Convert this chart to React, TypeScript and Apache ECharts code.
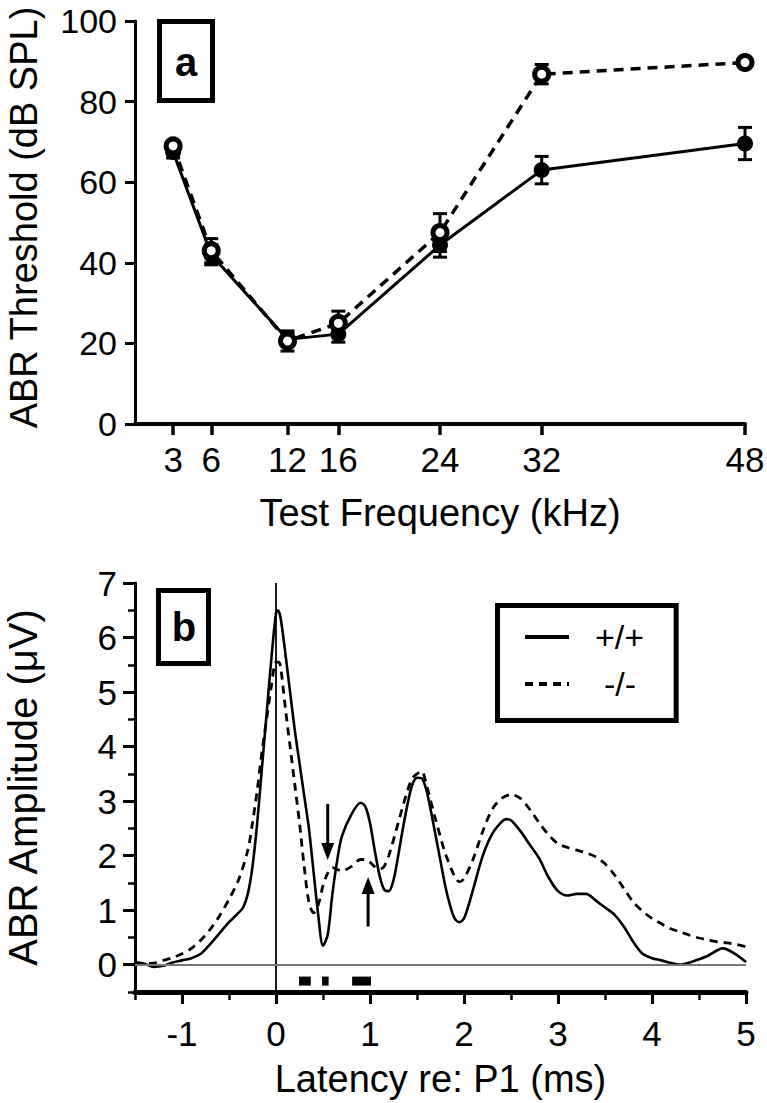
import React, { useEffect, useRef } from "react";
import * as echarts from "echarts";

// ---------- Panel a: ABR thresholds ----------
const freqTicks = [3, 6, 12, 16, 24, 32, 48];
const wtThreshold = [67.5, 42, 21, 22.3, 44.4, 63, 69.6];
const wtError = [1.5, 2.5, 1.5, 2, 3, 3.4, 4];
const koThreshold = [69, 43, 20.6, 25, 47.5, 86.8, 89.7];
const koError = [1.2, 3, 2.5, 3, 4.7, 2.4, 1];

// ---------- Panel b: ABR waveforms ----------
const wtLatency = [
  -1.5, -1.4, -1.3, -1.2, -1.1, -1.0, -0.9, -0.8, -0.7, -0.6, -0.5, -0.4, -0.35, -0.3, -0.25, -0.2, -0.15, -0.1,
  -0.05, 0, 0.02, 0.05, 0.1, 0.15, 0.2, 0.25, 0.3, 0.35, 0.4, 0.45, 0.5, 0.55, 0.6, 0.65, 0.7, 0.8, 0.9, 0.95, 1.0,
  1.05, 1.1, 1.15, 1.2, 1.25, 1.3, 1.35, 1.4, 1.45, 1.5, 1.55, 1.6, 1.65, 1.7, 1.75, 1.8, 1.85, 1.9, 1.95, 2.0,
  2.05, 2.1, 2.2, 2.3, 2.4, 2.45, 2.5, 2.6, 2.7, 2.8, 2.9, 3.0, 3.1, 3.2, 3.3, 3.4, 3.5, 3.6, 3.7, 3.8, 3.9, 4.0,
  4.1, 4.2, 4.3, 4.4, 4.5, 4.6, 4.7, 4.75, 4.8, 4.9, 5.0,
];
const wtAmplitude = [
  0.05, 0.02, -0.04, -0.02, 0.04, 0.08, 0.12, 0.2, 0.38, 0.58, 0.78, 0.95, 1.05, 1.3, 1.8, 2.6, 3.6, 4.6,
  5.6, 6.45, 6.5, 6.35, 5.7, 5.0, 4.3, 3.7, 3.1, 2.5, 1.7, 0.9, 0.35, 0.55, 1.3, 1.9, 2.35, 2.75, 2.97, 2.9, 2.6,
  2.1, 1.65, 1.38, 1.35, 1.55, 2.0, 2.5, 2.95, 3.3, 3.43, 3.42, 3.2, 2.8, 2.35, 1.9, 1.45, 1.1, 0.85, 0.78, 0.85,
  1.1, 1.4, 2.0, 2.4, 2.62, 2.67, 2.65, 2.45, 2.2, 1.95, 1.6, 1.35, 1.27, 1.3, 1.3, 1.18, 1.05, 0.92, 0.7, 0.42, 0.2, 0.12,
  0.08, 0.03, 0.0, 0.04, 0.1, 0.17, 0.27, 0.3, 0.28, 0.18, 0.05,
];
const koLatency = [
  -1.5, -1.4, -1.3, -1.2, -1.1, -1.0, -0.9, -0.8, -0.7, -0.6, -0.5, -0.4, -0.3, -0.25, -0.2, -0.15, -0.1, -0.05,
  0, 0.03, 0.05, 0.1, 0.15, 0.2, 0.25, 0.3, 0.35, 0.4, 0.45, 0.5, 0.55, 0.6, 0.7, 0.8, 0.9, 0.95, 1.0, 1.05, 1.1,
  1.15, 1.2, 1.3, 1.4, 1.45, 1.5, 1.55, 1.6, 1.7, 1.8, 1.9, 1.95, 2.0, 2.1, 2.2, 2.3, 2.4, 2.5, 2.6, 2.7, 2.8, 2.9,
  3.0, 3.1, 3.2, 3.3, 3.4, 3.5, 3.6, 3.7, 3.8, 3.9, 4.0, 4.1, 4.2, 4.3, 4.4, 4.5, 4.6, 4.7, 4.8, 4.9, 5.0,
];
const koAmplitude = [
  0.0, 0.02, 0.03, 0.08, 0.13, 0.2, 0.3, 0.45, 0.65, 0.9, 1.2, 1.55, 2.1, 2.6, 3.2, 3.9, 4.5, 5.1,
  5.55, 5.55, 5.45, 4.7, 4.0, 3.3, 2.6, 1.8, 1.15, 0.95, 1.1, 1.45, 1.68, 1.78, 1.72, 1.8, 1.93, 1.93, 1.88, 1.8, 1.75,
  1.8, 2.0, 2.6, 3.2, 3.42, 3.5, 3.55, 3.3, 2.65, 2.05, 1.62, 1.52, 1.58, 1.95, 2.45, 2.85, 3.05, 3.12, 3.05, 2.85, 2.6, 2.38,
  2.22, 2.15, 2.1, 2.05, 1.98, 1.85, 1.65, 1.4, 1.15, 0.98, 0.85, 0.75, 0.66, 0.6, 0.54, 0.49, 0.45, 0.42, 0.4, 0.37, 0.33,
];
const latencyLabels = [-1, 0, 1, 2, 3, 4, 5];
const amplitudeLabels = [0, 1, 2, 3, 4, 5, 6, 7];
// arrows: [latency, from amplitude, to amplitude (tip)]
const arrows = [
  [0.55, 2.95, 1.92],
  [0.98, 0.7, 1.61],
];
// significance bars: [start latency, end latency, amplitude level]
const sigBars = [
  [0.245, 0.37, -0.3],
  [0.49, 0.56, -0.3],
  [0.81, 1.01, -0.3],
];

const FONT = "'Liberation Sans', Arial, Helvetica, sans-serif";
const BLACK = "#000";

export default function App() {
  const ref = useRef<HTMLDivElement>(null);

  useEffect(() => {
    document.body.style.margin = "0";
    if (!ref.current) return;
    const chart = echarts.init(ref.current, undefined, { renderer: "svg" });

    const errorBarItem = (params: any, api: any) => {
      const x = api.value(0);
      const p1 = api.coord([x, api.value(1)]);
      const p2 = api.coord([x, api.value(2)]);
      const w = 7;
      const st = { stroke: BLACK, lineWidth: 3 };
      return {
        type: "group",
        children: [
          { type: "line", shape: { x1: p1[0], y1: p1[1], x2: p2[0], y2: p2[1] }, style: st },
          { type: "line", shape: { x1: p1[0] - w, y1: p1[1], x2: p1[0] + w, y2: p1[1] }, style: st },
          { type: "line", shape: { x1: p2[0] - w, y1: p2[1], x2: p2[0] + w, y2: p2[1] }, style: st },
        ],
      };
    };

    const arrowItem = (params: any, api: any) => {
      const x = api.value(0);
      const a = api.coord([x, api.value(1)]);
      const b = api.coord([x, api.value(2)]);
      const dir = b[1] > a[1] ? 1 : -1;
      const headLen = 17;
      const headW = 6.5;
      const base = b[1] - dir * headLen;
      return {
        type: "group",
        children: [
          { type: "line", shape: { x1: a[0], y1: a[1], x2: a[0], y2: base }, style: { stroke: BLACK, lineWidth: 3 } },
          {
            type: "polygon",
            shape: { points: [[b[0], b[1]], [b[0] - headW, base], [b[0] + headW, base]] },
            style: { fill: BLACK },
          },
        ],
      };
    };

    const sigItem = (params: any, api: any) => {
      const p0 = api.coord([api.value(0), api.value(2)]);
      const p1 = api.coord([api.value(1), api.value(2)]);
      const h = 9;
      return {
        type: "rect",
        shape: { x: p0[0], y: p0[1] - h / 2, width: p1[0] - p0[0], height: h },
        style: { fill: BLACK },
      };
    };

    const tickLabel = { color: BLACK, fontSize: 35, fontFamily: FONT };
    const nameStyle = { color: BLACK, fontSize: 38, fontFamily: FONT };

    chart.setOption({
      animation: false,
      backgroundColor: "#fff",
      grid: [
        { left: 135, right: 22, top: 21, bottom: 679, containLabel: false, outerBoundsMode: "none" },
        { left: 135, right: 21, top: 583, bottom: 111, containLabel: false, outerBoundsMode: "none" },
      ],
      xAxis: [
        {
          gridIndex: 0,
          type: "value",
          min: 0,
          max: 48,
          splitLine: { show: false },
          axisLine: { onZero: false, lineStyle: { color: BLACK, width: 4 } },
          axisTick: { customValues: freqTicks, length: 11, lineStyle: { color: BLACK, width: 3.5 } },
          axisLabel: { ...tickLabel, customValues: freqTicks, margin: 18 },
          name: "Test Frequency (kHz)",
          nameLocation: "middle",
          nameGap: 70,
          nameTextStyle: nameStyle,
        },
        {
          gridIndex: 1,
          type: "value",
          min: -1.5,
          max: 5,
          interval: 0.5,
          splitLine: { show: false },
          axisLine: { onZero: false, lineStyle: { color: BLACK, width: 5 } },
          axisTick: { length: 8, lineStyle: { color: BLACK, width: 2.5 } },
          axisLabel: { ...tickLabel, customValues: latencyLabels, margin: 24 },
          name: "Latency re: P1 (ms)",
          nameLocation: "middle",
          nameGap: 68,
          nameTextStyle: nameStyle,
        },
        {
          gridIndex: 1,
          type: "value",
          position: "bottom",
          min: -1.5,
          max: 5,
          splitLine: { show: false },
          axisLine: { show: false, onZero: false },
          axisTick: { customValues: latencyLabels, length: 12, lineStyle: { color: BLACK, width: 3 } },
          axisLabel: { show: false },
        },
      ],
      yAxis: [
        {
          gridIndex: 0,
          type: "value",
          min: 0,
          max: 100,
          interval: 20,
          splitLine: { show: false },
          axisLine: { show: true, onZero: false, lineStyle: { color: BLACK, width: 3 } },
          axisTick: { show: true, length: 10, lineStyle: { color: BLACK, width: 3 } },
          axisLabel: { ...tickLabel, fontSize: 34, margin: 18 },
          name: "ABR Threshold (dB SPL)",
          nameLocation: "middle",
          nameGap: 92,
          nameTextStyle: { ...nameStyle, fontSize: 38, padding: [0, 0, 0, 10] },
        },
        {
          gridIndex: 1,
          type: "value",
          min: -0.5,
          max: 7,
          interval: 0.5,
          splitLine: { show: false },
          axisLine: { show: true, onZero: false, lineStyle: { color: BLACK, width: 3 } },
          axisTick: { show: true, length: 7, lineStyle: { color: BLACK, width: 2.5 } },
          axisLabel: { ...tickLabel, customValues: amplitudeLabels, margin: 18 },
          name: "ABR Amplitude (\u03bcV)",
          nameLocation: "middle",
          nameGap: 92,
          nameTextStyle: { ...nameStyle, fontSize: 40 },
        },
        {
          gridIndex: 1,
          type: "value",
          position: "left",
          min: -0.5,
          max: 7,
          splitLine: { show: false },
          axisLine: { show: false, onZero: false },
          axisTick: { show: true, customValues: amplitudeLabels, length: 12, lineStyle: { color: BLACK, width: 3 } },
          axisLabel: { show: false },
        },
      ],
      legend: {
        data: [{ name: "+/+" }, { name: "-/-", textStyle: { padding: [0, 0, 0, 30] } }],
        orient: "vertical",
        left: 497.5,
        top: 605.5,
        padding: [14.5, 32, 19.5, 25.5],
        itemWidth: 44,
        itemHeight: 14,
        itemGap: 13,
        borderColor: BLACK,
        borderWidth: 5,
        borderRadius: 0,
        selectedMode: false,
        lineStyle: { width: 4 },
        itemStyle: { color: "rgba(0,0,0,0)", borderWidth: 0, opacity: 0 },
        textStyle: { color: BLACK, fontSize: 34, fontFamily: FONT, padding: [0, 0, 0, 21] },
      },
      graphic: [
        {
          type: "rect",
          shape: { x: 159.5, y: 21.5, width: 53, height: 79 },
          style: { fill: "#fff", stroke: BLACK, lineWidth: 5 },
        },
        {
          type: "text",
          x: 186,
          y: 62,
          style: { text: "a", fill: BLACK, font: `bold 40px ${FONT}`, align: "center", verticalAlign: "middle" },
        },
        {
          type: "rect",
          shape: { x: 158.5, y: 590.5, width: 50, height: 73 },
          style: { fill: "#fff", stroke: BLACK, lineWidth: 5 },
        },
        {
          type: "text",
          x: 184,
          y: 627,
          style: { text: "b", fill: BLACK, font: `bold 40px ${FONT}`, align: "center", verticalAlign: "middle" },
        },
      ],
      series: [
        {
          type: "custom",
          name: "a +/+ error",
          xAxisIndex: 0,
          yAxisIndex: 0,
          z: 2,
          encode: { x: 0, y: [1, 2] },
          renderItem: errorBarItem,
          data: wtThreshold.map((v, i) => [freqTicks[i], v - wtError[i], v + wtError[i]]),
        },
        {
          type: "custom",
          name: "a -/- error",
          xAxisIndex: 0,
          yAxisIndex: 0,
          z: 2,
          encode: { x: 0, y: [1, 2] },
          renderItem: errorBarItem,
          data: koThreshold.map((v, i) => [freqTicks[i], v - koError[i], v + koError[i]]),
        },
        {
          type: "line",
          name: "a +/+",
          xAxisIndex: 0,
          yAxisIndex: 0,
          z: 3,
          data: wtThreshold.map((v, i) => [freqTicks[i], v]),
          lineStyle: { color: BLACK, width: 3 },
          symbol: "circle",
          symbolSize: 16,
          itemStyle: { color: BLACK },
        },
        {
          type: "line",
          name: "a -/-",
          xAxisIndex: 0,
          yAxisIndex: 0,
          z: 4,
          data: koThreshold.map((v, i) => [freqTicks[i], v]),
          lineStyle: { color: BLACK, width: 3.5, type: [10, 7] },
          symbol: "circle",
          symbolSize: 14,
          itemStyle: { color: "#fff", borderColor: BLACK, borderWidth: 5 },
        },
        {
          type: "line",
          name: "+/+",
          xAxisIndex: 1,
          yAxisIndex: 1,
          z: 3,
          smooth: 0.3,
          symbol: "none",
          data: wtLatency.map((t, i) => [t, wtAmplitude[i]]),
          lineStyle: { color: BLACK, width: 2.6 },
          itemStyle: { color: BLACK },
          markLine: {
            silent: true,
            symbol: "none",
            label: { show: false },
            data: [
              { xAxis: 0, lineStyle: { color: BLACK, width: 1.8, type: "solid" } },
              { yAxis: 0, lineStyle: { color: "#777", width: 2, type: "solid" } },
            ],
          },
        },
        {
          type: "line",
          name: "-/-",
          xAxisIndex: 1,
          yAxisIndex: 1,
          z: 4,
          smooth: 0.3,
          symbol: "none",
          data: koLatency.map((t, i) => [t, koAmplitude[i]]),
          lineStyle: { color: BLACK, width: 2.8, type: [8, 6] },
          itemStyle: { color: BLACK },
        },
        {
          type: "custom",
          name: "arrows",
          xAxisIndex: 1,
          yAxisIndex: 1,
          z: 5,
          encode: { x: 0, y: [1, 2] },
          renderItem: arrowItem,
          data: arrows,
        },
        {
          type: "custom",
          name: "significance",
          xAxisIndex: 1,
          yAxisIndex: 1,
          z: 5,
          encode: { x: [0, 1], y: 2 },
          renderItem: sigItem,
          data: sigBars,
        },
      ],
    });

    return () => chart.dispose();
  }, []);

  return <div ref={ref} style={{ width: 767, height: 1103 }} />;
}
